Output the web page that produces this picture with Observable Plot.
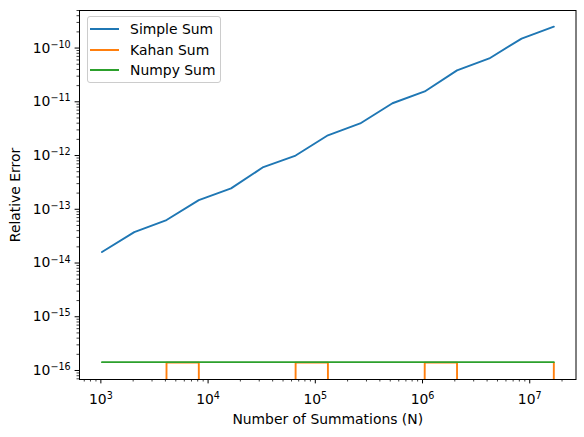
<!DOCTYPE html>
<html>
<head>
<meta charset="utf-8">
<script src="https://cdn.jsdelivr.net/npm/d3@7"></script>
<script src="https://cdn.jsdelivr.net/npm/@observablehq/plot@0.6"></script>
<style>
  html, body { margin: 0; padding: 0; background: white; }
  #wrap { position: relative; width: 584px; height: 437px; font-family: "DejaVu Sans", sans-serif; }
  #legend { position: absolute; left: 86.5px; top: 16px; width: 134.5px; height: 67px; box-sizing: border-box;
            border: 1px solid #cccccc; border-radius: 3px; background: rgba(255,255,255,0.8); }
  .lrow { position: absolute; left: 0; height: 20px; display: flex; align-items: center; }
  .lline { display: inline-block; margin-left: 2.3px; width: 29.3px; height: 2px; flex: none; }
  .ltext { margin-left: 11px; font-size: 13.9px; line-height: 20px; color: #000; white-space: nowrap; }
</style>
</head>
<body>
<div id="wrap"></div>
<script>
// ---- data ----
const N = [1024, 2048, 4096, 8192, 16384, 32768, 65536, 131072, 262144, 524288,
           1048576, 2097152, 4194304, 8388608, 16777216];
const simpleSum = [1.6e-14, 3.75e-14, 6.3e-14, 1.48e-13, 2.45e-13, 6.1e-13, 1.0e-12, 2.38e-12,
                   3.95e-12, 9.4e-12, 1.56e-11, 3.85e-11, 6.4e-11, 1.5e-10, 2.5e-10];
const kahanSum = [0, 0, 1.40e-16, 1.40e-16, 0, 0, 1.40e-16, 1.40e-16, 0, 0,
                  1.40e-16, 1.40e-16, 0, 0, 1.40e-16];
const numpySum = [1.43e-16, 1.43e-16, 1.43e-16, 1.43e-16, 1.43e-16, 1.43e-16, 1.43e-16, 1.43e-16,
                  1.43e-16, 1.43e-16, 1.43e-16, 1.43e-16, 1.43e-16, 1.43e-16, 1.43e-16];
const seriesNames = ["Simple Sum", "Kahan Sum", "Numpy Sum"];
const seriesColors = ["#1f77b4", "#ff7f0e", "#2ca02c"];
const xMajorTicks = [1e3, 1e4, 1e5, 1e6, 1e7];
const yMajorTicks = [1e-16, 1e-15, 1e-14, 1e-13, 1e-12, 1e-11, 1e-10];
const xLabel = "Number of Summations (N)";
const yLabel = "Relative Error";
const xDomain = [632, 2.7e7];
const yDomain = [6.8e-17, 5e-10];

// minor ticks (2..9 per decade) inside the domains
function minorTicks(dom) {
  const out = [];
  const lo = Math.floor(Math.log10(dom[0])), hi = Math.ceil(Math.log10(dom[1]));
  for (let e = lo; e <= hi; e++) for (let k = 2; k <= 9; k++) {
    const v = k * Math.pow(10, e);
    if (v >= dom[0] && v <= dom[1]) out.push(v);
  }
  return out;
}
const fmtPow = v => "10^" + Math.round(Math.log10(v));

// zero values (log of 0) are sent far below the visible range; the clipped line drops off the axes
const kahanDrawn = kahanSum.map(v => v > 0 ? v : yDomain[0] * 1e-250);

const chart = Plot.plot({
  width: 584,
  height: 437,
  marginLeft: 79,
  marginRight: 8.5,
  marginTop: 10,
  marginBottom: 58,
  style: { fontFamily: "DejaVu Sans", fontSize: "13.9px", background: "white", color: "black" },
  x: { type: "log", domain: xDomain },
  y: { type: "log", domain: yDomain },
  marks: [
    Plot.line(N, { x: N, y: simpleSum, stroke: seriesColors[0], strokeWidth: 1.9, clip: true }),
    Plot.line(N, { x: N, y: kahanDrawn, stroke: seriesColors[1], strokeWidth: 1.9, clip: true }),
    Plot.line(N, { x: N, y: numpySum, stroke: seriesColors[2], strokeWidth: 1.9, clip: true }),
    Plot.axisX({ ticks: minorTicks(xDomain), tickSize: 2.5, strokeWidth: 0.76, tickFormat: () => "", label: null }),
    Plot.axisY({ ticks: minorTicks(yDomain), tickSize: 2.5, strokeWidth: 0.76, tickFormat: () => "", label: null }),
    Plot.axisX({ ticks: xMajorTicks, tickSize: 4.4, tickPadding: 10, strokeWidth: 1, tickFormat: fmtPow, label: null }),
    Plot.axisY({ ticks: yMajorTicks, tickSize: 4.4, tickPadding: 4.4, strokeWidth: 1, tickFormat: fmtPow, label: null }),
    Plot.text([xLabel], { text: d => d, frameAnchor: "bottom", textAnchor: "middle", lineAnchor: "middle", dy: 40, fill: "black" }),
    Plot.text([yLabel], { text: d => d, frameAnchor: "left", textAnchor: "middle", lineAnchor: "middle", rotate: -90, dx: -64, fill: "black" }),
    Plot.frame({ stroke: "black", strokeWidth: 1 })
  ]
});

// turn "10^k" tick labels into 10 with a raised exponent
const svgNS = "http://www.w3.org/2000/svg";
chart.querySelectorAll("text").forEach(t => {
  const m = t.textContent.match(/^10\^(-?\d+)$/);
  if (m) {
    t.textContent = "10";
    const ts = document.createElementNS(svgNS, "tspan");
    ts.setAttribute("dy", "-4.8");
    ts.setAttribute("font-size", "9.6");
    ts.textContent = m[1].replace("-", "\u2212");
    t.appendChild(ts);
  }
});

const wrap = document.getElementById("wrap");
wrap.appendChild(chart);

// legend
const legend = document.createElement("div");
legend.id = "legend";
seriesNames.forEach((name, i) => {
  const row = document.createElement("div");
  row.className = "lrow";
  row.style.top = Math.round(1.7 + i * 20.8) + "px";
  const ln = document.createElement("span");
  ln.className = "lline";
  ln.style.background = seriesColors[i];
  const tx = document.createElement("span");
  tx.className = "ltext";
  tx.textContent = name;
  row.appendChild(ln);
  row.appendChild(tx);
  legend.appendChild(row);
});
wrap.appendChild(legend);
</script>
</body>
</html>
